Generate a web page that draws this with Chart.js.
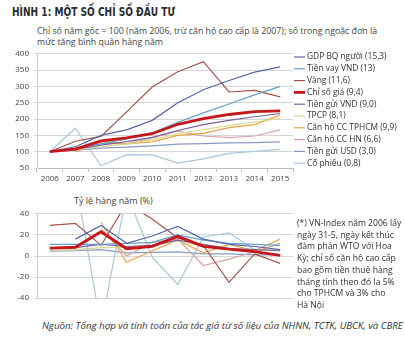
<!DOCTYPE html>
<html lang="vi">
<head>
<meta charset="utf-8">
<script src="https://cdn.jsdelivr.net/npm/chart.js@4.4.1/dist/chart.umd.min.js"></script>
<style>
  body { margin: 0; width: 405px; height: 345px; background: #fff; position: relative; overflow: hidden;
         font-family: "Open Sans", "Noto Sans", sans-serif; color: #3a3a3a; }
  .t { position: absolute; white-space: nowrap; transform-origin: 0 50%; }
  #title { left: 12px; top: 4px; font: 700 12.5px "DejaVu Sans Condensed", "Open Sans", sans-serif; color: #2b2b2b; }
  .sub { left: 37px; font-size: 9px; color: #444; }
  #rateTitle { left: 74px; top: 194px; font-size: 9px; color: #444; }
  .note { left: 297px; font-size: 8.6px; color: #333; }
  #source { left: 42px; top: 319px; font-size: 9px; font-style: italic; color: #333; }
  .box { position: absolute; left: 0; width: 405px; }
  #topBox { top: 44px; height: 150px; }
  #rateBox { top: 204px; height: 104px; }
</style>
</head>
<body>
<div class="t" id="title" data-w="163">HÌNH 1: MỘT SỐ CHỈ SỐ ĐẦU TƯ</div>
<div class="t sub" id="sub1" style="top:24px" data-w="340">Chỉ số năm gốc = 100 (năm 2006, trừ căn hộ cao cấp là 2007); số trong ngoặc đơn là</div>
<div class="t sub" id="sub2" style="top:35px">mức tăng bình quân hàng năm</div>

<div class="box" id="topBox"><canvas id="indexChart" width="405" height="150"></canvas></div>

<div class="t" id="rateTitle">Tỷ lệ hàng năm (%)</div>
<div class="box" id="rateBox"><canvas id="rateChart" width="405" height="104"></canvas></div>

<div class="t note" style="top:217px">(*) VN-Index năm 2006 lấy</div>
<div class="t note" style="top:229px">ngày 31-5, ngày kết thúc</div>
<div class="t note" style="top:240px">đàm phán WTO với Hoa</div>
<div class="t note" style="top:252px">Kỳ; chỉ số căn hộ cao cấp</div>
<div class="t note" style="top:264px">bao gồm tiền thuê hàng</div>
<div class="t note" style="top:276px">tháng tính theo đó la 5%</div>
<div class="t note" style="top:287px">cho TPHCM và 3% cho</div>
<div class="t note" style="top:299px">Hà Nội</div>

<div class="t" id="source" data-w="361">Nguồn: Tổng hợp và tính toán của tác giả từ số liệu của NHNN, TCTK, UBCK, và CBRE</div>

<script>
// Years on the shared x axis
const years = ['2006', '2007', '2008', '2009', '2010', '2011', '2012', '2013', '2014', '2015'];

// Series labels (average yearly growth in brackets) and colours
const seriesNames = [
  'GDP BQ người (15,3)', 'Tiền vay VND (13)', 'Vàng (11,6)', 'Chỉ số giá (9,4)', 'Tiền gửi VND (9,0)',
  'TPCP (8,1)', 'Căn hộ CC TPHCM (9,9)', 'Căn hộ CC HN (6,6)', 'Tiền gửi USD (3,0)', 'Cổ phiếu (0,8)'
];
const seriesColors = [
  '#5a66a8', '#62a2c9', '#a3524c', '#c8161d', '#7b5f9f',
  '#d8d78e', '#e9a546', '#d9a4a0', '#8a9ac6', '#a9c7df'
];

// Index values, base year = 100
const idxGdp      = [100, 115, 150, 167, 196, 250, 290, 318, 344, 360];
const idxLoan     = [100, 111, 124, 139, 158, 190, 219, 246, 274, 300];
const idxGold     = [100, 132, 147, 222, 298, 345, 376, 283, 288, 268];
const idxCpi      = [100, 108, 133, 142, 155, 184, 201, 214, 223, 225];
const idxDeposit  = [100, 108, 120, 131, 144, 165, 183, 196, 207, 217];
const idxBond     = [100, 106, 115, 124, 136, 155, 168, 180, 191, 202];
const idxFlatHcm  = [null, 100, 132, 124, 130, 150, 156, 174, 183, 212];
const idxFlatHn   = [null, 100, 126, 125, 142, 163, 148, 143, 148, 167];
const idxUsdDep   = [100, 105, 111, 114, 118, 123, 125, 127, 128, 130];
const idxStocks   = [100, 172, 57, 91, 90, 65, 78, 95, 101, 107];

// Yearly rates, %
const rateGdp     = [null, 16, 29, 12, 19, 28, 16, 11, 9, 6];
const rateLoan    = [11, 11, 11, 12, 13, 20, 15, 12, 11, 10];
const rateGold    = [29, 31, 10, 50, 35, 17, 10, -25, 2, -7];
const rateCpi     = [7.5, 8.3, 23, 6.9, 9.2, 18.6, 9.1, 6.6, 4.1, 0.6];
const rateDeposit = [7, 8, 11, 9, 10, 15, 11, 7, 6, 5];
const rateBond    = [5, 6, 8, 8, 10, 14, 9, 7, 6, 6];
const rateFlatHcm = [null, null, 32, -6, 5, 15, 3, 11, 5, 16];
const rateFlatHn  = [null, null, 26, 0, 13, 16, -9, -3, 4, 12];
const rateUsdDep  = [4.5, 5, 6, 3, 3.5, 4, 2, 2, 1, 1];
const rateStocks  = [null, 72, -67, 59, -1, -27, 18, 22, 6, 6];

const indexSeries = [idxGdp, idxLoan, idxGold, idxCpi, idxDeposit, idxBond, idxFlatHcm, idxFlatHn, idxUsdDep, idxStocks];
const rateSeries = [rateGdp, rateLoan, rateGold, rateCpi, rateDeposit, rateBond, rateFlatHcm, rateFlatHn, rateUsdDep, rateStocks];

const tickFont = { family: '"Open Sans", sans-serif', size: 8 };
const gridColor = '#d6d6d6';

function makeDatasets(series) {
  return series.map((data, i) => ({
    label: seriesNames[i],
    data: data,
    borderColor: seriesColors[i],
    borderWidth: i === 3 ? 2.8 : 1.2,
    pointRadius: 0,
    tension: 0,
    order: i === 3 ? -1 : 0
  }));
}

// Legend drawn at the right of the index chart, one short line per series
const sideLegend = {
  id: 'sideLegend',
  afterDraw(chart) {
    const ctx = chart.ctx;
    ctx.save();
    ctx.font = '8.4px "Open Sans", sans-serif';
    ctx.textBaseline = 'middle';
    chart.data.datasets.forEach((ds, i) => {
      const y = 13 + i * 11.8;
      ctx.strokeStyle = ds.borderColor;
      ctx.lineWidth = ds.borderWidth;
      ctx.beginPath();
      ctx.moveTo(294, y);
      ctx.lineTo(305, y);
      ctx.stroke();
      ctx.fillStyle = '#333';
      ctx.fillText(ds.label, 307, y);
    });
    ctx.restore();
  }
};

Chart.defaults.animation = false;
Chart.defaults.color = '#444';

new Chart(document.getElementById('indexChart'), {
  type: 'line',
  data: { labels: years, datasets: makeDatasets(indexSeries) },
  options: {
    responsive: false,
    layout: { padding: { top: 6, right: 112, bottom: 6, left: 0 } },
    plugins: { legend: { display: false }, tooltip: { enabled: false } },
    scales: {
      x: {
        offset: true,
        afterFit(s) { s.height = 20; },
        grid: { offset: true, drawOnChartArea: false, tickLength: 4, color: '#bdbdbd' },
        border: { color: '#bdbdbd' },
        ticks: { font: tickFont, padding: 2, maxRotation: 0 }
      },
      y: {
        min: 50, max: 400,
        afterFit(s) { s.width = 37; },
        grid: { color: gridColor, tickLength: 3 },
        border: { color: '#d0d0d0' },
        ticks: { stepSize: 50, font: tickFont, padding: 5 }
      }
    }
  },
  plugins: [sideLegend]
});

new Chart(document.getElementById('rateChart'), {
  type: 'line',
  data: { labels: years, datasets: makeDatasets(rateSeries) },
  options: {
    responsive: false,
    layout: { padding: { top: 6, right: 112, bottom: 4, left: 0 } },
    plugins: { legend: { display: false }, tooltip: { enabled: false } },
    scales: {
      x: { offset: true, display: false },
      y: {
        min: -40, max: 40,
        afterFit(s) { s.width = 37; },
        grid: { color: gridColor, tickLength: 3 },
        border: { color: '#d0d0d0' },
        ticks: { stepSize: 10, font: tickFont, padding: 5 }
      }
    }
  }
});

// squeeze long text lines to their set widths
document.querySelectorAll('[data-w]').forEach(el => {
  const w = parseFloat(el.dataset.w);
  const k = w / el.getBoundingClientRect().width;
  el.style.transform = 'scaleX(' + k.toFixed(3) + ')';
});
// second subtitle line keeps the first line's squeeze
document.getElementById('sub2').style.transform = document.getElementById('sub1').style.transform;
</script>
</body>
</html>
